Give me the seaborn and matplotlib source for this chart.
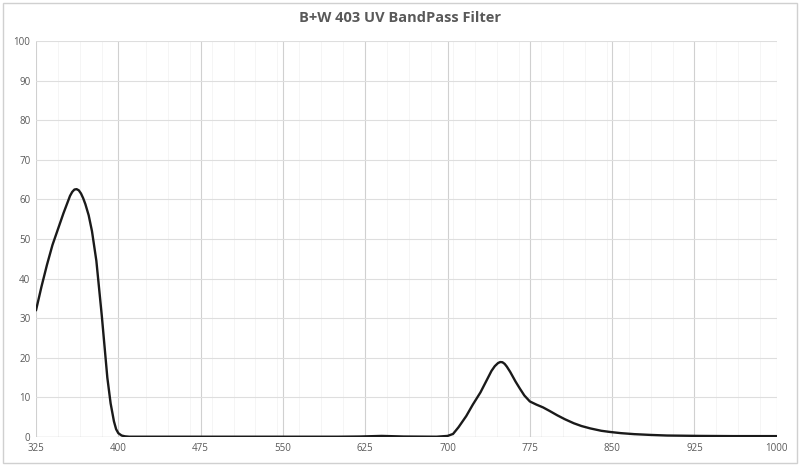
import numpy as np
import pandas as pd
import matplotlib.pyplot as plt
import seaborn as sns
from matplotlib.ticker import FixedLocator
from matplotlib.patches import Rectangle

# wavelength (nm) and transmission (%)
wavelength = [325, 330, 335, 340, 345, 350, 353, 356, 358, 360, 362, 364, 366,
              368, 370, 373, 376, 380, 385, 390, 393, 396, 398, 400, 403,
              406, 410, 450, 550, 600, 620, 640, 660, 690,
              700, 705, 710, 717, 723, 730, 735, 740, 743, 746, 748, 750, 752,
              754, 757, 762, 766, 770, 775, 781, 787, 793, 800, 807, 815, 822,
              830, 840, 848, 858, 870, 885, 900, 930, 960, 1000]
transmission = [32, 38, 43.5, 48.5, 52.5, 56.5, 58.7, 60.9, 61.9, 62.5, 62.6, 62.3, 61.5,
                60.3, 58.8, 56, 52, 44.5, 30.5, 15, 8.5, 4, 2, 1, 0.4,
                0.2, 0.1, 0.1, 0.1, 0.1, 0.15, 0.3, 0.15, 0.1,
                0.3, 0.8, 2.5, 5.3, 8.2, 11.3, 14, 16.7, 17.9, 18.7, 18.95, 18.9, 18.5,
                17.8, 16.5, 14, 12.2, 10.5, 9, 8.2, 7.5, 6.6, 5.5, 4.5, 3.5, 2.8,
                2.2, 1.6, 1.3, 1.0, 0.75, 0.55, 0.4, 0.3, 0.25, 0.25]

xticks = [325, 400, 475, 550, 625, 700, 775, 850, 925, 1000]
yticks = list(range(0, 101, 10))

df = pd.DataFrame({'wavelength': wavelength, 'transmission': transmission})

sns.set_style('white')
plt.rcParams['font.family'] = ['Open Sans', 'DejaVu Sans']

fig = plt.figure(figsize=(8, 4.66), dpi=100)
ax = fig.add_axes([0.045, 0.062, 0.926, 0.85])

sns.lineplot(data=df, x='wavelength', y='transmission', color='#1a1a1a',
             linewidth=1.7, ax=ax)

ax.set_xlim(325, 1000)
ax.set_ylim(0, 100)
ax.xaxis.set_major_locator(FixedLocator(xticks))
ax.xaxis.set_minor_locator(FixedLocator([v for v in range(345, 1000, 20)
                                         if v not in (405,)]))
ax.yaxis.set_major_locator(FixedLocator(yticks))
ax.grid(which='major', axis='x', color='#d0d0d0', linewidth=0.8)
ax.grid(which='major', axis='y', color='#dedede', linewidth=0.8)
ax.grid(which='minor', axis='x', color='#f5f5f5', linewidth=0.7)
ax.set_axisbelow(True)
for s in ax.spines.values():
    s.set_visible(False)
ax.axhline(0, color='#bfbfbf', linewidth=0.9, zorder=1)

ax.tick_params(which='both', length=0, labelsize=7, labelcolor='#595959', pad=4)
ax.set_xlabel('')
ax.set_ylabel('')

fig.text(0.5, 0.961, 'B+W 403 UV BandPass Filter', ha='center', va='center',
         fontsize=10.5, fontweight='bold', color='#595959')

fig.patches.append(Rectangle((0.004, 0.006), 0.992, 0.988, transform=fig.transFigure,
                             fill=False, edgecolor='#d0d0d0', linewidth=1))

fig.savefig('out.png', dpi=100)
